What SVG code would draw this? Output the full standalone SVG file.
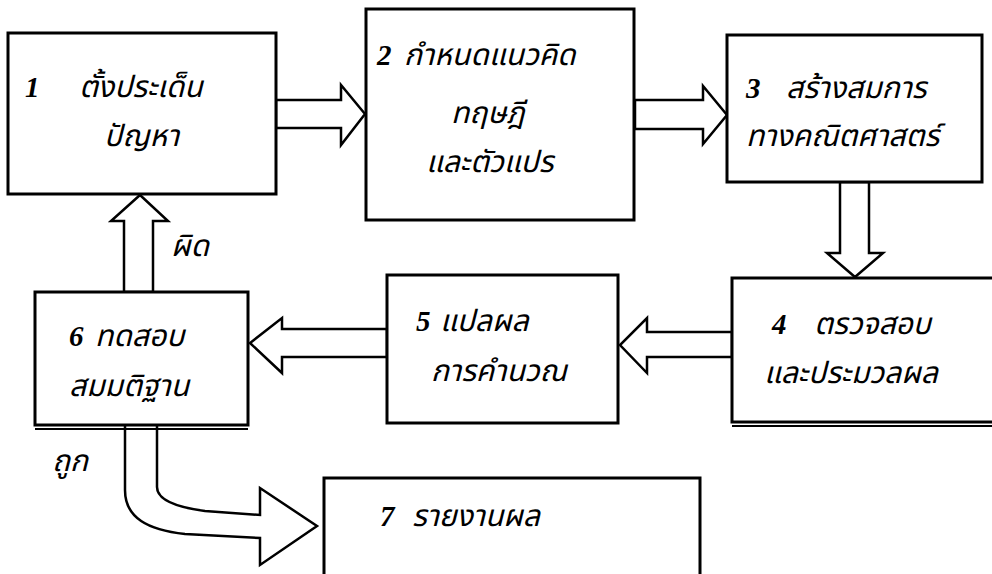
<svg xmlns="http://www.w3.org/2000/svg" width="992" height="574" viewBox="0 0 992 574">
<style>
.box{fill:#fff;stroke:#000;stroke-width:3}
.edge{fill:none;stroke:#000;stroke-width:2}
.arr{fill:#fff;stroke:#000;stroke-width:2.5;stroke-linejoin:miter}
.t{font-family:"Liberation Serif","Noto Sans Thai","Noto Serif Thai","DejaVu Sans",serif;font-style:italic;font-size:30px;fill:#000}
.d{font-size:29px;font-weight:bold}
</style>
<rect width="992" height="574" fill="#fff"/>
<g id="connectors">
<polygon class="arr" points="276,100 341,100 341,85 365,114 341,145 341,128 276,128"/>
<polygon class="arr" points="635,100 703,100 703,86 727,115 703,144 703,129 635,129"/>
<polygon class="arr" points="840,182 840,253 827,253 855,277 883,253 869,253 869,182"/>
<polygon class="arr" points="732,332 647,332 647,318 620,345 647,373 647,357 732,357"/>
<polygon class="arr" points="387,329 282,329 282,318 250,343 282,373 282,357 387,357"/>
<polygon class="arr" points="124,292 124,221 111,221 140,195 168,221 153,221 153,292"/>
<path class="arr" d="M125,426 L125,490 C125,518 148,530 185,534 L260,538 L260,565 L317,526 L260,488 L260,515 L205,511 C175,507 157,499 157,487 L157,426"/>
<text class="t" x="171" y="256">ผิด</text>
<text class="t" x="52" y="471">ถูก</text>
</g>
<g id="n1">
<rect class="box" x="8" y="33" width="268" height="161"/>
<text class="t" x="25" y="97"><tspan class="d">1</tspan><tspan x="79">ตั้งประเด็น</tspan></text>
<text class="t" x="104" y="146">ปัญหา</text>
</g>
<g id="n2">
<rect class="box" x="366" y="9" width="268" height="211"/>
<line class="edge" x1="366" y1="47" x2="366" y2="200" stroke-width="4"/>
<text class="t" x="377" y="65"><tspan class="d">2</tspan><tspan x="404">กำหนดแนวคิด</tspan></text>
<text class="t" x="451" y="123">ทฤษฎี</text>
<text class="t" x="426" y="172">และตัวแปร</text>
</g>
<g id="n3">
<rect class="box" x="727" y="35" width="255" height="147"/>
<text class="t" x="746" y="98"><tspan class="d">3</tspan><tspan x="786">สร้างสมการ</tspan></text>
<text class="t" x="746" y="146">ทางคณิตศาสตร์</text>
</g>
<g id="n4">
<rect class="box" x="732" y="278" width="270" height="144"/>
<line class="edge" x1="732" y1="426" x2="992" y2="426"/>
<text class="t" x="772" y="334"><tspan class="d">4</tspan><tspan x="814">ตรวจสอบ</tspan></text>
<text class="t" x="764" y="383">และประมวลผล</text>
</g>
<g id="n5">
<rect class="box" x="387" y="275" width="231" height="148"/>
<text class="t" x="416" y="331"><tspan class="d">5</tspan><tspan x="440">แปลผล</tspan></text>
<text class="t" x="431" y="381">การคำนวณ</text>
</g>
<g id="n6">
<rect class="box" x="35" y="292" width="213" height="133"/>
<line class="edge" x1="35" y1="429" x2="248" y2="429"/>
<text class="t" x="69" y="346"><tspan class="d">6</tspan><tspan x="95">ทดสอบ</tspan></text>
<text class="t" x="69" y="396">สมมติฐาน</text>
</g>
<g id="n7">
<rect class="box" x="324" y="478" width="376" height="110"/>
<text class="t" x="380" y="526"><tspan class="d">7</tspan><tspan x="412">รายงานผล</tspan></text>
</g>
</svg>
